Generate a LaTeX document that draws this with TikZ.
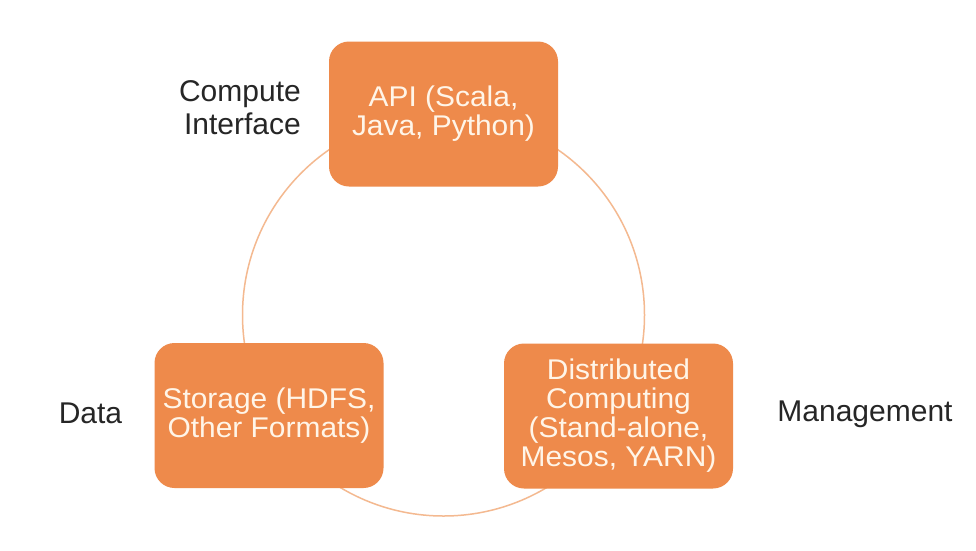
\documentclass[tikz,border=0pt]{standalone}
\usepackage{fontspec}
\setmainfont{Liberation Sans}
\newfontfamily\boxfont{Liberation Sans}[FakeStretch=1.05]
\definecolor{boxfill}{HTML}{EE8A4B}
\definecolor{ringcol}{HTML}{F4B990}
\definecolor{boxtext}{HTML}{FFF5E8}
\definecolor{labeltext}{HTML}{262626}
\begin{document}
\begin{tikzpicture}[x=1pt,y=-1pt,
  compbox/.style={rectangle, rounded corners=20pt, fill=boxfill, draw=none,
    minimum width=229pt, minimum height=145pt, align=center, text=boxtext,
    font=\boxfont\fontsize{28.5}{29}\selectfont, inner sep=0pt},
  sidelabel/.style={text=labeltext, font=\fontsize{30}{33}\selectfont, inner sep=0pt}]
\useasboundingbox (0,0) rectangle (976,550);
\fill[white] (0,0) rectangle (976,550);
\coordinate (ctr) at (443.5,315);
\draw[ringcol, line width=1.5pt] (ctr) circle[radius=201pt];
\node[compbox] (api) at (443.5,114) {API (Scala,\\Java, Python)};
\node[compbox] (storage) at (269,415.5) {Storage (HDFS,\\Other Formats)};
\node[compbox] (dist) at (618.5,416) {Distributed\\Computing\\(Stand-alone,\\Mesos, YARN)};
\node[sidelabel, align=right, anchor=east] (compute) at (301,108) {Compute\\Interface};
\node[sidelabel] (data) at (90.5,413) {Data};
\node[sidelabel] (mgmt) at (865,414.5) {Management};
\end{tikzpicture}
\end{document}
